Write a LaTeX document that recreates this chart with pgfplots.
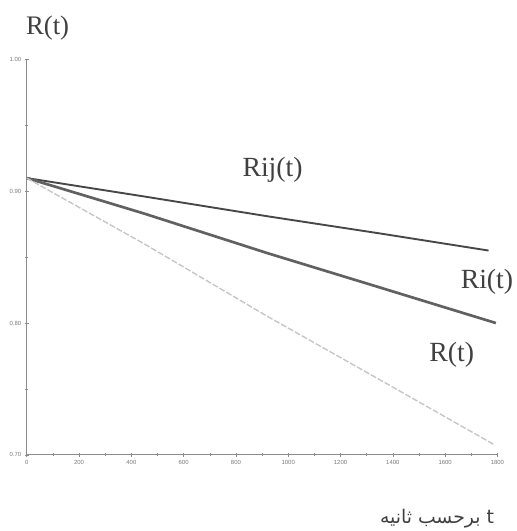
\documentclass[border=0pt]{standalone}
\usepackage{fontspec}
\setmainfont{Liberation Serif}
\newfontfamily\tickfont{Liberation Sans}
\newfontfamily\arabicfont[Script=Arabic]{DejaVu Sans}
\TeXXeTstate=1
\usepackage{pgfplots}
\pgfplotsset{compat=1.18}
\begin{document}
\begin{tikzpicture}
\begin{axis}[
  at={(0,0)}, anchor=south west,
  scale only axis, width=475pt, height=399pt,
  xmin=0, xmax=1800, ymin=0.70, ymax=1.00,
  axis lines*=left,
  axis line style={gray!90, line width=0.9pt},
  xtick={0,200,...,1800}, ytick={0.70,0.80,0.90,1.00},
  minor x tick num=1, minor y tick num=1,
  tick align=center, major tick length=4pt, minor tick length=3pt,
  tick style={gray!90, line width=0.6pt},
  ticklabel style={font=\tickfont\fontsize{6}{7}\selectfont, text=gray!95!black},
  /pgf/number format/assume math mode=true,
  yticklabel style={/pgf/number format/.cd, fixed, fixed zerofill, precision=2},
  xticklabel style={/pgf/number format/.cd, fixed, 1000 sep={}},
  clip=false,
]
% Rij(t)
\addplot[black!72, line width=1.9pt] coordinates {(0,0.910) (450,0.896) (921,0.881) (1350,0.868) (1766,0.855)};
% Ri(t)
\addplot[black!62, line width=2.7pt] coordinates {(0,0.910) (450,0.883) (921,0.853) (1350,0.827) (1794,0.800)};
% R(t)
\addplot[gray!45, line width=1.4pt, dash pattern=on 6pt off 2pt] coordinates {(0,0.910) (450,0.860) (921,0.805) (1350,0.757) (1785,0.708)};
\node[font=\fontsize{28}{30}\selectfont, text=black!75] at (axis cs:940,0.916) {Rij(t)};
\node[font=\fontsize{28}{30}\selectfont, text=black!75] at (axis cs:1760,0.831) {Ri(t)};
\node[font=\fontsize{28}{30}\selectfont, text=black!75] at (axis cs:1625,0.776) {R(t)};
\end{axis}
\node[font=\fontsize{27}{29}\selectfont, text=black!75] at (21pt,431pt) {R(t)};
\node[font=\arabicfont\fontsize{19}{21}\selectfont, text=black!75] at (414pt,-64pt) {\beginR t برحسب ثانیه\endR};
\path[use as bounding box] (-27pt,-72pt) rectangle (491pt,459pt);
\end{tikzpicture}
\end{document}
